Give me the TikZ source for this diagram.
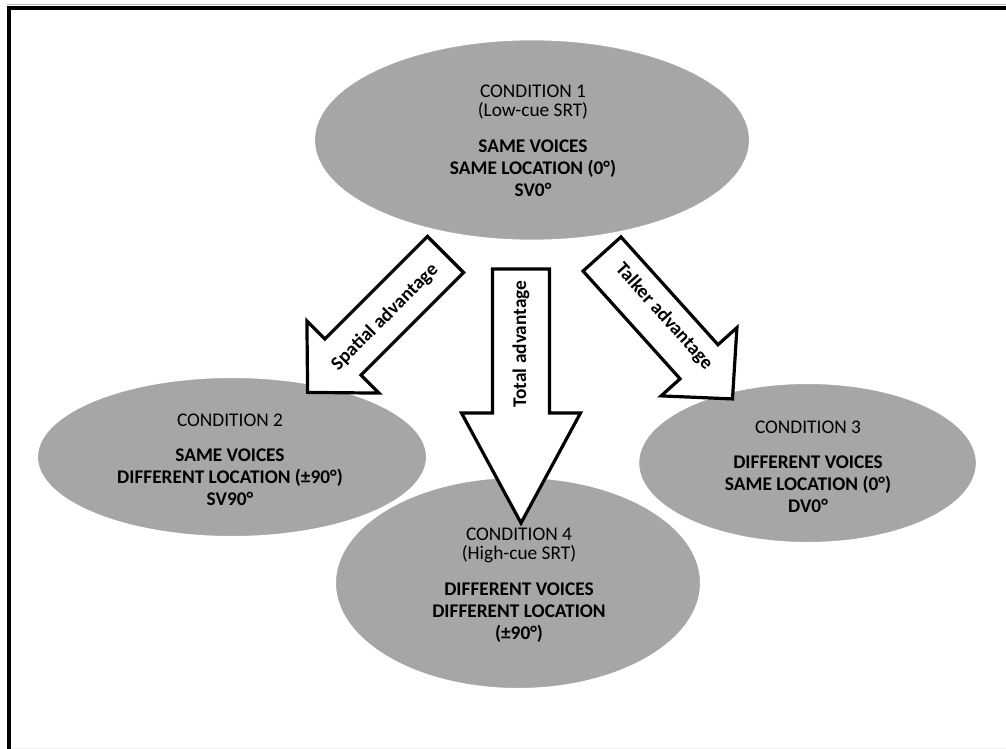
\documentclass[tikz,border=0pt]{standalone}
\usepackage{fontspec}
\setmainfont{Carlito}
\usetikzlibrary{shapes.geometric}
\definecolor{ellgray}{RGB}{166,166,166}
\begin{document}
\begin{tikzpicture}[x=0.75pt,y=-0.75pt,
  ell/.style={ellipse, fill=ellgray, draw=white, line width=1.5pt, inner sep=0pt},
  txt/.style={align=center, inner sep=0pt, font=\fontsize{14.5}{16.5}\selectfont, text=black},
  barrow/.style={draw=black, fill=white, line width=2.4pt, line join=miter},
  atxt/.style={font=\fontsize{14.5}{16}\selectfont\bfseries, inner sep=0pt}]
\useasboundingbox[fill=white] (0,0) rectangle (1006,749);
% frame
\draw[gray!55, line width=0.75pt] (7,5) -- (1006,5);
\draw[black, line width=3pt] (7,8) -- (1006,8);
\draw[black, line width=3pt] (9,6.5) -- (9,749);
\draw[gray!12, line width=0.75pt] (11,748) -- (1006,748);
% ellipses
\node[ell, minimum width=327pt, minimum height=151pt] (e1) at (532,140) {};
\node[ell, minimum width=292.5pt, minimum height=120pt] (e2) at (232,457) {};
\node[ell, minimum width=254pt, minimum height=120pt] (e3) at (807.5,463) {};
\node[ell, minimum width=274.5pt, minimum height=159pt] (e4) at (518,583) {};
% block arrows
\begin{scope}[shift={(445.5,254.5)}, rotate=-135]
  \draw[barrow] (0,-25.5) -- (145,-25.5) -- (145,-51) -- (195,0) -- (145,51) -- (145,25.5) -- (0,25.5) -- cycle;
\end{scope}
\begin{scope}[shift={(602,254)}, rotate=-48]
  \draw[barrow] (0,-25.5) -- (145,-25.5) -- (145,-51) -- (195,0) -- (145,51) -- (145,25.5) -- (0,25.5) -- cycle;
\end{scope}
\begin{scope}[shift={(521,269)}, rotate=-90]
  \draw[barrow] (0,-28.5) -- (144,-28.5) -- (144,-59.5) -- (254,0) -- (144,59.5) -- (144,28.5) -- (0,28.5) -- cycle;
\end{scope}
\node[atxt, rotate=45] (sa) at (385,317.5) {Spatial advantage};
\node[atxt, rotate=-48] (ta) at (664,316.5) {Talker advantage};
\node[atxt, rotate=90] (tot) at (521,344) {Total advantage};
% ellipse texts
\node[txt] (t1) at (533,141) {CONDITION 1\\[-2.25pt](Low-cue SRT)\\[10.5pt]\textbf{SAME VOICES}\\\textbf{SAME LOCATION (0°)}\\\textbf{SV0°}};
\node[txt] (t2) at (230,459.5) {CONDITION 2\\[9.75pt]\textbf{SAME VOICES}\\\textbf{DIFFERENT LOCATION (±90°)}\\\textbf{SV90°}};
\node[txt] (t3) at (808,466.5) {CONDITION 3\\[9.75pt]\textbf{DIFFERENT VOICES}\\\textbf{SAME LOCATION (0°)}\\\textbf{DV0°}};
\node[txt] (t4) at (519,585) {CONDITION 4\\[-2.25pt](High-cue SRT)\\[10.5pt]\textbf{DIFFERENT VOICES}\\\textbf{DIFFERENT LOCATION}\\\textbf{(±90°)}};
\end{tikzpicture}
\end{document}
